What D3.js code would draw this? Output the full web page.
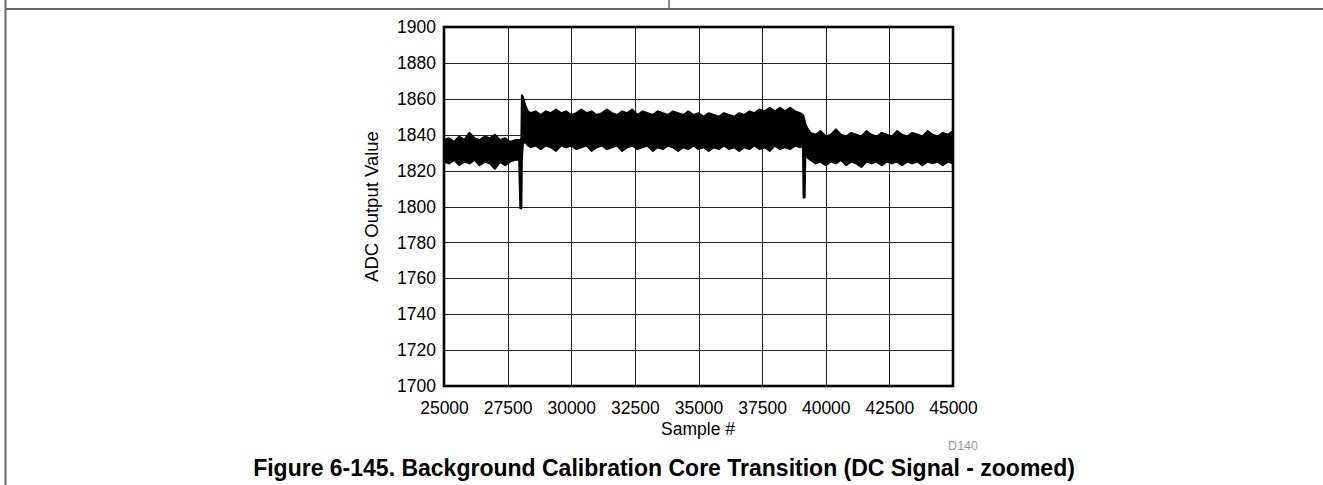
<!DOCTYPE html>
<html>
<head>
<meta charset="utf-8">
<script src="https://cdn.jsdelivr.net/npm/d3@7"></script>
<style>
  html, body { margin: 0; padding: 0; background: #fff; }
  svg { display: block; }
</style>
</head>
<body>
<svg id="chart" width="1323" height="485"></svg>
<script>
// ---- Data ----
const xTicks = [25000, 27500, 30000, 32500, 35000, 37500, 40000, 42500, 45000];
const yTicks = [1700, 1720, 1740, 1760, 1780, 1800, 1820, 1840, 1860, 1880, 1900];

// sample positions and the upper / lower envelope of the noisy ADC trace
const sampleNo = [
  25000, 25200, 25400, 25600, 25800, 26000, 26200, 26400, 26600, 26800,
  27000, 27200, 27400, 27600, 27800, 27950, 28000, 28040, 28060, 28100,
  28200, 28300,
  28400, 28600, 28800, 29000, 29200, 29400, 29600, 29800, 30000, 30200,
  30400, 30600, 30800, 31000, 31200, 31400, 31600, 31800, 32000, 32200,
  32400, 32600, 32800, 33000, 33200, 33400, 33600, 33800, 34000, 34200,
  34400, 34600, 34800, 35000, 35200, 35400, 35600, 35800, 36000, 36200,
  36400, 36600, 36800, 37000, 37200, 37400, 37600, 37800, 38000, 38200,
  38400, 38600, 38800, 39000, 39100, 39130, 39170, 39200, 39300,
  39400, 39600, 39800, 40000, 40200, 40400, 40600, 40800, 41000, 41200,
  41400, 41600, 41800, 42000, 42200, 42400, 42600, 42800, 43000, 43200,
  43400, 43600, 43800, 44000, 44200, 44400, 44600, 44800, 45000
];
const upperVal = [
  1837, 1838, 1836, 1839, 1837, 1841, 1838, 1837, 1839, 1838,
  1840, 1837, 1838, 1836, 1837, 1837, 1837, 1838, 1862, 1861,
  1856, 1853,
  1852, 1853, 1851, 1853, 1852, 1854, 1852, 1853, 1851, 1852,
  1854, 1852, 1853, 1851, 1852, 1854, 1852, 1851, 1853, 1852,
  1854, 1851, 1853, 1852, 1851, 1853, 1852, 1851, 1853, 1852,
  1851, 1853, 1851, 1852, 1850, 1852, 1851, 1850, 1852, 1851,
  1850, 1852, 1851, 1853, 1852, 1854, 1853, 1855, 1853, 1855,
  1853, 1855, 1853, 1852, 1851, 1850, 1848, 1846, 1843,
  1841, 1840, 1842, 1839, 1840, 1843, 1840, 1839, 1841, 1840,
  1839, 1842, 1840, 1839, 1841, 1840, 1839, 1842, 1840, 1839,
  1841, 1840, 1839, 1842, 1840, 1839, 1841, 1840, 1842
];
const lowerVal = [
  1825, 1824, 1826, 1823, 1825, 1824, 1826, 1823, 1825, 1824,
  1821, 1825, 1823, 1825, 1826, 1826, 1799, 1799, 1826, 1835,
  1836, 1834,
  1833, 1834, 1832, 1834, 1833, 1831, 1834, 1833, 1834, 1832,
  1833, 1834, 1831, 1833, 1834, 1832, 1833, 1834, 1831, 1833,
  1834, 1832, 1833, 1834, 1831, 1833, 1832, 1834, 1833, 1831,
  1833, 1832, 1834, 1832, 1833, 1831, 1833, 1832, 1834, 1832,
  1833, 1831, 1833, 1832, 1834, 1832, 1833, 1831, 1834, 1832,
  1833, 1832, 1834, 1833, 1834, 1805, 1805, 1830, 1827,
  1826, 1824, 1825, 1823, 1825, 1824, 1826, 1823, 1825, 1824,
  1822, 1825, 1824, 1825, 1823, 1825, 1824, 1825, 1823, 1825,
  1824, 1825, 1823, 1825, 1824, 1825, 1823, 1825, 1824
];

const xTitle = "Sample #";
const yTitle = "ADC Output Value";
const figId = "D140";
const caption = "Figure 6-145. Background Calibration Core Transition (DC Signal - zoomed)";

// ---- Layout ----
const FONT = "'Liberation Sans', Arial, Helvetica, sans-serif";
const plot = { left: 444, right: 953, top: 27, bottom: 386 };

const svg = d3.select("#chart");

// page frame (datasheet table borders)
const frame = svg.append("g").attr("stroke", "#666").attr("fill", "none");
frame.append("line").attr("x1", 5).attr("x2", 1323).attr("y1", 9).attr("y2", 9).attr("stroke-width", 2);
frame.append("line").attr("x1", 5.5).attr("x2", 5.5).attr("y1", 0).attr("y2", 485).attr("stroke-width", 2);
frame.append("line").attr("x1", 669).attr("x2", 669).attr("y1", 0).attr("y2", 9).attr("stroke-width", 1.5);

const x = d3.scaleLinear().domain([25000, 45000]).range([plot.left, plot.right]);
const y = d3.scaleLinear().domain([1700, 1900]).range([plot.bottom, plot.top]);

// grid
const grid = svg.append("g").attr("stroke", "#222").attr("stroke-width", 1);
grid.selectAll("line.v").data(xTicks).join("line").attr("class", "v")
  .attr("x1", d => Math.round(x(d)) + 0.5).attr("x2", d => Math.round(x(d)) + 0.5)
  .attr("y1", plot.top).attr("y2", plot.bottom);
grid.selectAll("line.h").data(yTicks).join("line").attr("class", "h")
  .attr("x1", plot.left).attr("x2", plot.right)
  .attr("y1", d => Math.round(y(d)) + 0.5).attr("y2", d => Math.round(y(d)) + 0.5);

// clip
svg.append("clipPath").attr("id", "clip").append("rect")
  .attr("x", plot.left).attr("y", plot.top)
  .attr("width", plot.right - plot.left).attr("height", plot.bottom - plot.top);

// data band
const pts = sampleNo.map((s, i) => ({ s, hi: upperVal[i], lo: lowerVal[i] }));
const area = d3.area().x(d => x(d.s)).y0(d => y(d.lo)).y1(d => y(d.hi));
svg.append("path").datum(pts)
  .attr("clip-path", "url(#clip)")
  .attr("d", area)
  .attr("fill", "#000").attr("stroke", "#000").attr("stroke-width", 2)
  .attr("stroke-linejoin", "round");

// plot border
svg.append("rect")
  .attr("x", plot.left).attr("y", plot.top)
  .attr("width", plot.right - plot.left).attr("height", plot.bottom - plot.top)
  .attr("fill", "none").attr("stroke", "#000").attr("stroke-width", 2.6);

// axes (labels only)
const yAxis = svg.append("g").attr("transform", `translate(${plot.left},0)`)
  .call(d3.axisLeft(y).tickValues(yTicks).tickSize(0).tickPadding(8).tickFormat(d3.format("d")));
const xAxis = svg.append("g").attr("transform", `translate(0,${plot.bottom})`)
  .call(d3.axisBottom(x).tickValues(xTicks).tickSize(0).tickPadding(15.5).tickFormat(d3.format("d")));
[yAxis, xAxis].forEach(g => {
  g.select(".domain").remove();
  g.selectAll("text").attr("font-family", FONT).attr("font-size", 17.5).attr("fill", "#000");
});

// titles
svg.append("text").attr("x", 698).attr("y", 435)
  .attr("text-anchor", "middle").attr("font-family", FONT).attr("font-size", 17.5)
  .text(xTitle);
svg.append("text").attr("transform", `translate(378,${(plot.top + plot.bottom) / 2}) rotate(-90)`)
  .attr("text-anchor", "middle").attr("font-family", FONT).attr("font-size", 18.5)
  .text(yTitle);
svg.append("text").attr("x", 978).attr("y", 450).attr("text-anchor", "end")
  .attr("font-family", FONT).attr("font-size", 12.5).attr("fill", "#999")
  .text(figId);
svg.append("text").attr("x", 664).attr("y", 476).attr("text-anchor", "middle")
  .attr("font-family", FONT).attr("font-size", 23).attr("font-weight", "bold")
  .text(caption);
</script>
</body>
</html>
